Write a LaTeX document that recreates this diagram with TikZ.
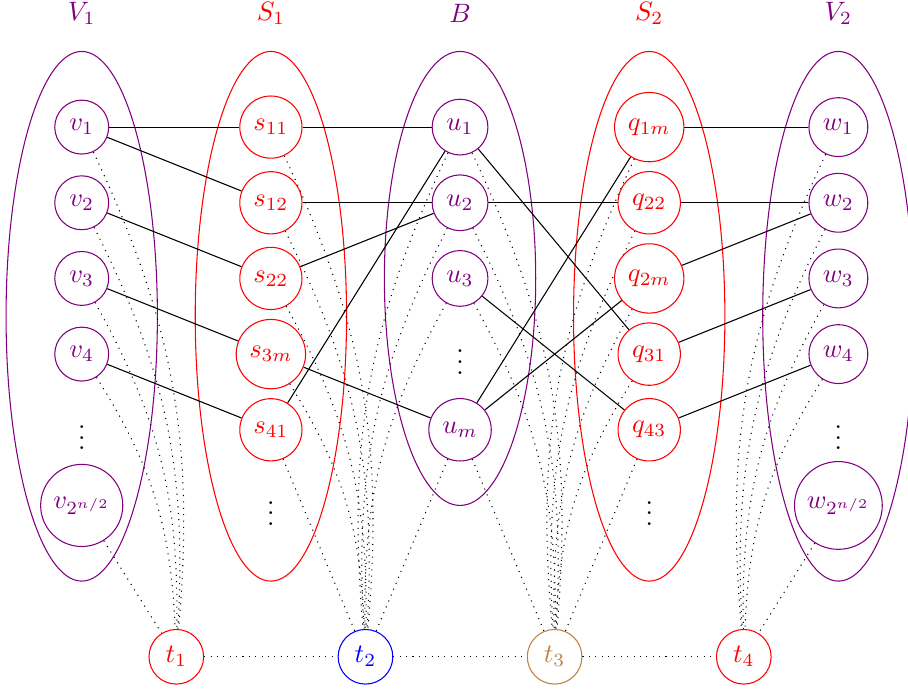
\documentclass[tikz,border=0pt]{standalone}
\usetikzlibrary{backgrounds}
\begin{document}
\begin{tikzpicture}[
  vn/.style={circle, draw=violet, text=violet, fill=white},
  rn/.style={circle, draw=red, text=red, fill=white},
  bn/.style={circle, draw=blue, text=blue, fill=white},
  brn/.style={circle, draw=brown, text=brown, fill=white},
  dl/.style={dotted},
  sl/.style={black}
]
\useasboundingbox (-1.08,-8.425) rectangle (10.92,0.68);
% labels
\node[text=violet] (LV1) at (0,0.5) {$V_1$};
\node[text=red] (LS1) at (2.5,0.5) {$S_1$};
\node[text=violet] (LB) at (5,0.5) {$B$};
\node[text=red] (LS2) at (7.5,0.5) {$S_2$};
\node[text=violet] (LV2) at (10,0.5) {$V_2$};
% V1
\node[vn] (v1) at (0,-1) {$v_1$};
\node[vn] (v2) at (0,-2) {$v_2$};
\node[vn] (v3) at (0,-3) {$v_3$};
\node[vn] (v4) at (0,-4) {$v_4$};
\node (vd) at (0,-5) {$\vdots$};
\node[vn] (vn) at (0,-6) {$v_{2^{n/2}}$};
% S1
\node[rn] (s11) at (2.5,-1) {$s_{11}$};
\node[rn] (s12) at (2.5,-2) {$s_{12}$};
\node[rn] (s22) at (2.5,-3) {$s_{22}$};
\node[rn] (s3m) at (2.5,-4) {$s_{3m}$};
\node[rn] (s41) at (2.5,-5) {$s_{41}$};
\node (sd) at (2.5,-6) {$\vdots$};
% B
\node[vn] (u1) at (5,-1) {$u_1$};
\node[vn] (u2) at (5,-2) {$u_2$};
\node[vn] (u3) at (5,-3) {$u_3$};
\node (ud) at (5,-4) {$\vdots$};
\node[vn] (um) at (5,-5) {$u_m$};
% S2
\node[rn] (q1m) at (7.5,-1) {$q_{1m}$};
\node[rn] (q22) at (7.5,-2) {$q_{22}$};
\node[rn] (q2m) at (7.5,-3) {$q_{2m}$};
\node[rn] (q31) at (7.5,-4) {$q_{31}$};
\node[rn] (q43) at (7.5,-5) {$q_{43}$};
\node (qd) at (7.5,-6) {$\vdots$};
% V2
\node[vn] (w1) at (10,-1) {$w_1$};
\node[vn] (w2) at (10,-2) {$w_2$};
\node[vn] (w3) at (10,-3) {$w_3$};
\node[vn] (w4) at (10,-4) {$w_4$};
\node (wd) at (10,-5) {$\vdots$};
\node[vn] (wn) at (10,-6) {$w_{2^{n/2}}$};
% t nodes
\node[rn] (t1) at (1.25,-8) {$t_1$};
\node[bn] (t2) at (3.75,-8) {$t_2$};
\node[brn] (t3) at (6.25,-8) {$t_3$};
\node[rn] (t4) at (8.75,-8) {$t_4$};
\begin{pgfonlayer}{background}
% group ellipses
\draw[violet] (0,-3.5) ellipse [x radius=1, y radius=3.5];
\draw[red] (2.5,-3.5) ellipse [x radius=1, y radius=3.5];
\draw[violet] (5,-3) ellipse [x radius=1, y radius=3];
\draw[red] (7.5,-3.5) ellipse [x radius=1, y radius=3.5];
\draw[violet] (10,-3.5) ellipse [x radius=1, y radius=3.5];
% solid edges
\draw[sl] (v1) -- (s11);
\draw[sl] (v1) -- (s12);
\draw[sl] (v2) -- (s22);
\draw[sl] (v3) -- (s3m);
\draw[sl] (v4) -- (s41);
\draw[sl] (s11) -- (u1);
\draw[sl] (s12) -- (u2);
\draw[sl] (s22) -- (u2);
\draw[sl] (s41) -- (u1);
\draw[sl] (s3m) -- (um);
\draw[sl] (u1) -- (q31);
\draw[sl] (u2) -- (q22);
\draw[sl] (u3) -- (q43);
\draw[sl] (um) -- (q1m);
\draw[sl] (um) -- (q2m);
\draw[sl] (q1m) -- (w1);
\draw[sl] (q22) -- (w2);
\draw[sl] (q2m) -- (w2);
\draw[sl] (q31) -- (w3);
\draw[sl] (q43) -- (w4);
% dotted edges
\foreach \n in {v1,v2,v3,v4} \draw[dl] (\n) to[bend left=15] (t1);
\draw[dl] (vn) -- (t1);
\foreach \n in {s11,s12,s22,s3m} \draw[dl] (\n) to[bend left=15] (t2);
\draw[dl] (s41) -- (t2);
\foreach \n in {u1,u2,u3} \draw[dl] (\n) to[bend right=15] (t2);
\draw[dl] (um) -- (t2);
\foreach \n in {u1,u2,u3} \draw[dl] (\n) to[bend left=15] (t3);
\draw[dl] (um) -- (t3);
\foreach \n in {q1m,q22,q2m,q31} \draw[dl] (\n) to[bend right=15] (t3);
\draw[dl] (q43) -- (t3);
\foreach \n in {w1,w2,w3,w4} \draw[dl] (\n) to[bend right=15] (t4);
\draw[dl] (wn) -- (t4);
\draw[dl] (t1) -- (t2);
\draw[dl] (t2) -- (t3);
\draw[dl] (t3) -- (t4);
\end{pgfonlayer}
\end{tikzpicture}
\end{document}
